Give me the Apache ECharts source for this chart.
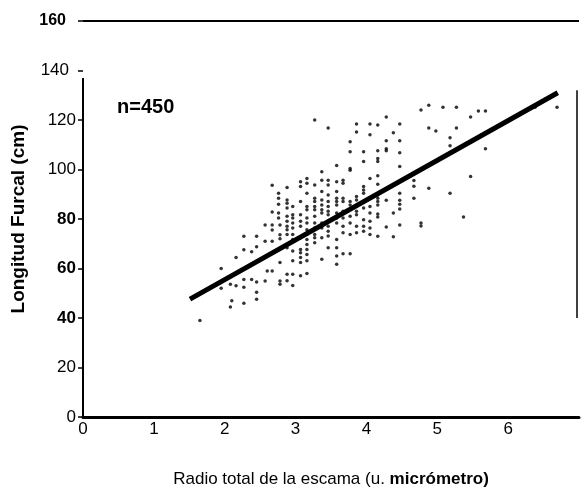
<!DOCTYPE html>
<html>
<head>
<meta charset="utf-8">
<script src="https://cdn.jsdelivr.net/npm/echarts@6/dist/echarts.min.js"></script>
<style>
html,body{margin:0;padding:0;background:#fff;}
#chart{width:582px;height:493px;}
</style>
</head>
<body>
<div id="chart"></div>
<script>
// Axis ticks
const xTicks = [0, 1, 2, 3, 4, 5, 6, 7];
const yTicks = [0, 20, 40, 60, 80, 100, 120, 140, 160];
const boldYTicks = [80, 60, 40];

// Regression line end points (radio, longitud)
const lineRadio = [1.51, 6.70];
const lineLongitud = [47.6, 131.0];

// Scatter points grouped by radio value: [radio, [longitud...]]
const columnas = [
  [1.65, [39]],
  [1.95, [60, 52]],
  [2.08, [53.6, 44.4]],
  [2.10, [47]],
  [2.16, [64.4, 53]],
  [2.27, [73, 67.6, 55.6, 52.4, 46]],
  [2.38, [66.8, 55.6]],
  [2.45, [73, 68.8, 54.5, 50.4, 47.6]],
  [2.57, [77.6, 71, 55]],
  [2.60, [59]],
  [2.67, [93.6, 82.8, 77.6, 75.6, 71, 59]],
  [2.76, [90.4, 88.4, 86, 82.4, 80.4]],
  [2.78, [77.6, 73.6, 72, 62.4, 55, 53.6]],
  [2.88, [92.7, 87.7, 86.4, 84.4, 81.1, 79.1, 77.1, 75.7, 73.7, 68.4, 57.7, 55.1]],
  [2.96, [85.1, 81.7, 80.4, 78.4, 76.4, 73.7, 71.7, 67.1, 63.1, 57.7, 53.1]],
  [3.07, [95.1, 93.1, 87.1, 81.7, 79.1, 77.1, 72.4, 67.7, 66.4, 64.4, 62.4, 57.1]],
  [3.16, [96.4, 94.4, 90.4, 85.1, 83.7, 80.4, 78.4, 75.7, 73.7, 71.7, 69.7, 67.7, 65.7, 63.1, 58]],
  [3.27, [120, 93.7, 88.4, 87.1, 85.1, 83.7, 81.1, 78.4, 76.4, 73.7, 72.4, 70.4]],
  [3.37, [99.1, 95.7, 91.1, 87.7, 85.7, 83.7, 82.4, 78.4, 76.4, 72.4, 63.7]],
  [3.46, [116.8, 95.7, 93.7, 89.7, 87.1, 85.1, 83.1, 81.7, 79.1, 77.1, 75.1, 73.1, 68.4]],
  [3.58, [101.6, 95.1, 91.1, 88.4, 87.1, 85.7, 82.4, 80.4, 78.4, 71.7, 68.4, 65.1, 61.7]],
  [3.67, [95.7, 94.4, 88.4, 87.1, 83.1, 80.4, 77.1, 74.4, 66]],
  [3.77, [111.2, 107.2, 100.4, 99.7, 87.1, 85.7, 81.1, 78.4, 73.7, 66]],
  [3.86, [118.4, 115.2, 89.1, 87.7, 83.1, 81.7, 77.1, 74.4]],
  [3.96, [107.2, 103.2, 93.1, 91.7, 90.4, 84.4, 79.7, 77.1, 75.1]],
  [4.05, [118.4, 114, 96.4, 85.1, 82.4, 79.1, 76.4, 73.7]],
  [4.16, [118, 107.6, 104.4, 103.2, 97.5, 94, 89.7, 88.4, 87.1, 85.7, 82, 80.8, 73]],
  [4.28, [121.2, 111.6, 108.4, 107.6, 87.6, 76.8]],
  [4.38, [114.8, 82.4, 72.8]],
  [4.47, [118.4, 111.6, 106.8, 101.2, 90.4, 87.6, 86, 84, 77.6]],
  [4.67, [95.6, 93.2, 88.4]],
  [4.77, [124, 78.4, 77.2]],
  [4.88, [126, 116.8, 92.4]],
  [4.98, [115.6]],
  [5.08, [125.2]],
  [5.18, [112.8, 109.6, 90.4]],
  [5.27, [125.2, 116.8]],
  [5.37, [80.8]],
  [5.47, [121.2, 97.2]],
  [5.58, [123.6]],
  [5.68, [123.6, 108.4]],
  [6.38, [125.2]],
  [6.69, [125.2]]
];

// Partial axis segments seen in the scan (data units)
const leftAxisTop = 137;
const rightEdge = { radio: 6.97, from: 40, to: 132 };

const puntos = [];
columnas.forEach(c => c[1].forEach(v => puntos.push([c[0], v])));

const FONT = 'Liberation Sans, Arial, sans-serif';
const chart = echarts.init(document.getElementById('chart'), null, {renderer: 'canvas'});
chart.setOption({
  animation: false,
  backgroundColor: '#fff',
  grid: {left: 83, right: 0, top: 21, bottom: 72, containLabel: false},
  xAxis: {
    type: 'value', min: xTicks[0], max: xTicks[xTicks.length - 1], interval: 1,
    axisLine: {show: true, onZero: false, lineStyle: {color: '#000', width: 3}},
    axisTick: {show: false},
    splitLine: {show: false},
    axisLabel: {
      color: '#000', fontSize: 17, fontFamily: FONT, margin: 4,
      formatter: v => (v === 7 ? '' : String(v))
    },
    name: '{n|Radio total de la escama (u. }{b|micrómetro)}',
    nameLocation: 'middle', nameGap: 54,
    nameTextStyle: {
      rich: {
        n: {fontSize: 17, fontFamily: FONT, color: '#000'},
        b: {fontSize: 17, fontFamily: FONT, color: '#000', fontWeight: 'bold'}
      }
    }
  },
  yAxis: {
    type: 'value', min: yTicks[0], max: yTicks[yTicks.length - 1], interval: 20,
    axisLine: {show: false},
    axisTick: {show: true, length: 5, lineStyle: {color: '#000', width: 1.5}},
    splitLine: {show: false},
    axisLabel: {
      margin: 7,
      formatter: v => (v === 160 ? '{t|160}' : v === 140 ? '{u|140}' : boldYTicks.includes(v) ? '{b|' + v + '}' : '{n|' + v + '}'),
      rich: {
        n: {fontSize: 17, fontFamily: FONT, color: '#000'},
        u: {fontSize: 17, fontFamily: FONT, color: '#000', padding: [0, 7, 0, 0]},
        b: {fontSize: 17, fontFamily: FONT, color: '#000', fontWeight: 'bold'},
        t: {fontSize: 16, fontFamily: FONT, color: '#000', fontWeight: 'bold', padding: [0, 10, 0, 0]}
      }
    },
    name: 'Longitud Furcal (cm)',
    nameLocation: 'middle', nameGap: 55, nameRotate: 90,
    nameTextStyle: {fontSize: 19, fontWeight: 'bold', fontFamily: FONT, color: '#000'}
  },
  graphic: [{
    type: 'text', left: 117, top: 97,
    style: {text: 'n=450', font: 'bold 20px ' + FONT, fill: '#000'}
  }],
  series: [
    {
      type: 'scatter', data: puntos, symbolSize: 3.5,
      itemStyle: {color: '#000'}, silent: true,
      markLine: {
        silent: true, symbol: 'none', label: {show: false},
        lineStyle: {color: '#000', type: 'solid', width: 2},
        data: [
          {yAxis: 160},
          [{coord: [0, 0]}, {coord: [0, leftAxisTop]}],
          [{coord: [rightEdge.radio, rightEdge.from], lineStyle: {width: 1.5}}, {coord: [rightEdge.radio, rightEdge.to]}]
        ]
      }
    },
    {
      type: 'line', data: lineRadio.map((x, i) => [x, lineLongitud[i]]),
      symbol: 'none', lineStyle: {color: '#000', width: 5}, silent: true
    }
  ]
});
</script>
</body>
</html>
